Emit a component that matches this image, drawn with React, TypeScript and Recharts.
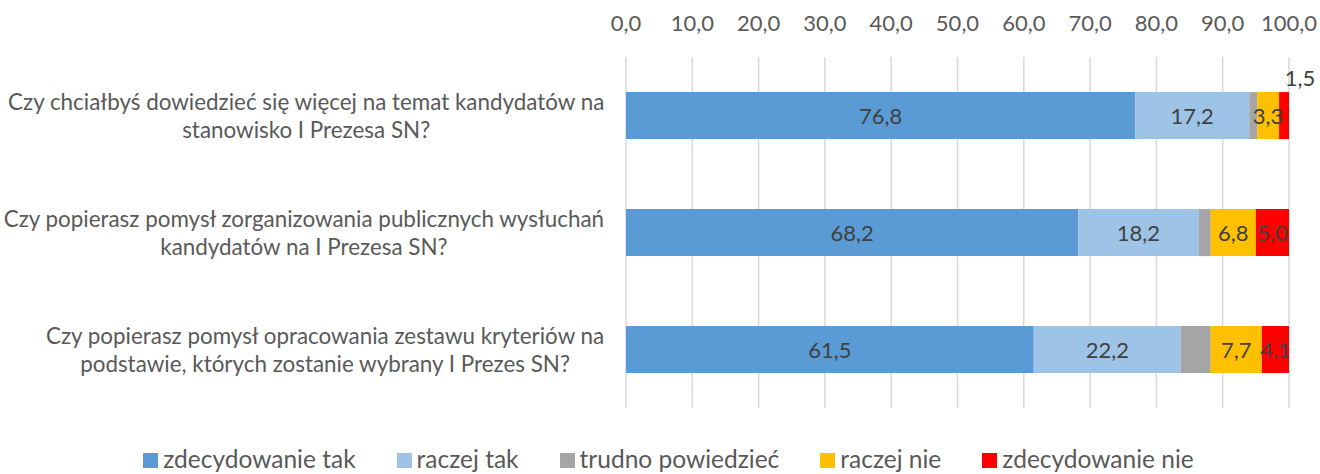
import React from "react";
import { BarChart, Bar, XAxis, YAxis, CartesianGrid, Legend, LabelList } from "recharts";

const categories = [
  "Czy chciałbyś dowiedzieć się więcej na temat kandydatów na\nstanowisko I Prezesa SN?",
  "Czy popierasz pomysł zorganizowania publicznych wysłuchań\nkandydatów na I Prezesa SN?",
  "Czy popierasz pomysł opracowania zestawu kryteriów na\npodstawie, których zostanie wybrany I Prezes SN?",
];
const zdecydowanieTak = [76.8, 68.2, 61.5];
const raczejTak = [17.2, 18.2, 22.2];
const trudnoPowiedziec = [1.2, 1.8, 4.5];
const raczejNie = [3.3, 6.8, 7.7];
const zdecydowanieNie = [1.5, 5.0, 4.1];
const xTicks = [0, 10, 20, 30, 40, 50, 60, 70, 80, 90, 100];

const seriesDefs = [
  { key: "zt", name: "zdecydowanie tak", values: zdecydowanieTak, color: "#5B9BD5", label: true },
  { key: "rt", name: "raczej tak", values: raczejTak, color: "#9DC3E6", label: true },
  { key: "tp", name: "trudno powiedzieć", values: trudnoPowiedziec, color: "#A5A5A5", label: false },
  { key: "rn", name: "raczej nie", values: raczejNie, color: "#FFC000", label: true },
  { key: "zn", name: "zdecydowanie nie", values: zdecydowanieNie, color: "#FF0000", label: true },
];

const data = categories.map((c, i) => {
  const row: any = { category: c };
  seriesDefs.forEach((s) => (row[s.key] = s.values[i]));
  return row;
});

const FONT = "Lato, 'Noto Sans', sans-serif";
const FS = 22;
const CAT_FS = 22.4;
const fmt = (v: number) => v.toFixed(1).replace(".", ",");

let ctx: CanvasRenderingContext2D | null = null;
const measure = (s: string) => {
  if (!ctx) ctx = document.createElement("canvas").getContext("2d");
  if (!ctx) return s.length * 10;
  ctx.font = `${CAT_FS}px ${FONT}`;
  return ctx.measureText(s).width;
};

const YTick = (props: any) => {
  const { y, payload } = props;
  const lines = String(payload.value).split("\n");
  const maxW = Math.max(...lines.map(measure));
  const right = 605;
  const cx = right - maxW / 2;
  return (
    <g>
      {lines.map((l, i) => (
        <text
          key={i}
          x={cx}
          y={y - 14 + i * 28}
          textAnchor="middle"
          dominantBaseline="central"
          fill="#595959"
          fontSize={CAT_FS}
          fontFamily={FONT}
        >
          {l}
        </text>
      ))}
    </g>
  );
};

const XTick = (props: any) => {
  const { x, payload } = props;
  return (
    <text x={x} y={22} textAnchor="middle" dominantBaseline="central" fill="#595959" fontSize={FS} fontFamily={FONT}>
      {fmt(payload.value)}
    </text>
  );
};

const BarLabel = (props: any) => {
  const { x, y, width, height, value } = props;
  if (value == null) return null;
  if (value < 2) {
    return (
      <text x={x + width / 2 + 16} y={y - 15} textAnchor="middle" dominantBaseline="central" fill="#404040" fontSize={FS} fontFamily={FONT}>
        {fmt(value)}
      </text>
    );
  }
  return (
    <text x={x + width / 2} y={y + height / 2} textAnchor="middle" dominantBaseline="central" fill="#404040" fontSize={FS} fontFamily={FONT}>
      {fmt(value)}
    </text>
  );
};

const LegendContent = () => (
  <div
    style={{
      display: "flex",
      justifyContent: "center",
      alignItems: "center",
      paddingTop: 38,
      paddingLeft: 48,
      fontFamily: FONT,
      fontSize: 24.5,
      lineHeight: "26px",
      color: "#595959",
      height: 26,
    }}
  >
    {seriesDefs.map((s) => (
      <div key={s.key} style={{ display: "flex", alignItems: "center", margin: "0 20.5px" }}>
        <span style={{ display: "inline-block", width: 15, height: 15, background: s.color, marginRight: 5, marginTop: 2 }} />
        <span>{s.name}</span>
      </div>
    ))}
  </div>
);

export default function App() {
  return (
    <div style={{ position: "absolute", left: 0, top: 0, width: 1320, height: 474, background: "#fff" }}>
      <BarChart
        width={1320}
        height={474}
        data={data}
        layout="vertical"
        margin={{ top: 0, right: 31, bottom: 0, left: 0 }}
        barCategoryGap="30%"
      >
        <CartesianGrid horizontal={false} vertical={true} stroke="#D9D9D9" strokeWidth={1.5} />
        <XAxis
          type="number"
          orientation="top"
          domain={[0, 100]}
          ticks={xTicks}
          height={57}
          axisLine={false}
          tickLine={false}
          tick={<XTick />}
          interval={0}
        />
        <YAxis
          type="category"
          dataKey="category"
          width={626}
          axisLine={false}
          tickLine={false}
          tick={<YTick />}
          interval={0}
        />
        <Legend verticalAlign="bottom" content={<LegendContent />} wrapperStyle={{ height: 66 }} />
        {seriesDefs.map((s) => (
          <Bar key={s.key} dataKey={s.key} name={s.name} stackId="a" fill={s.color} isAnimationActive={false}>
            {s.label && <LabelList dataKey={s.key} content={<BarLabel />} />}
          </Bar>
        ))}
      </BarChart>
    </div>
  );
}
